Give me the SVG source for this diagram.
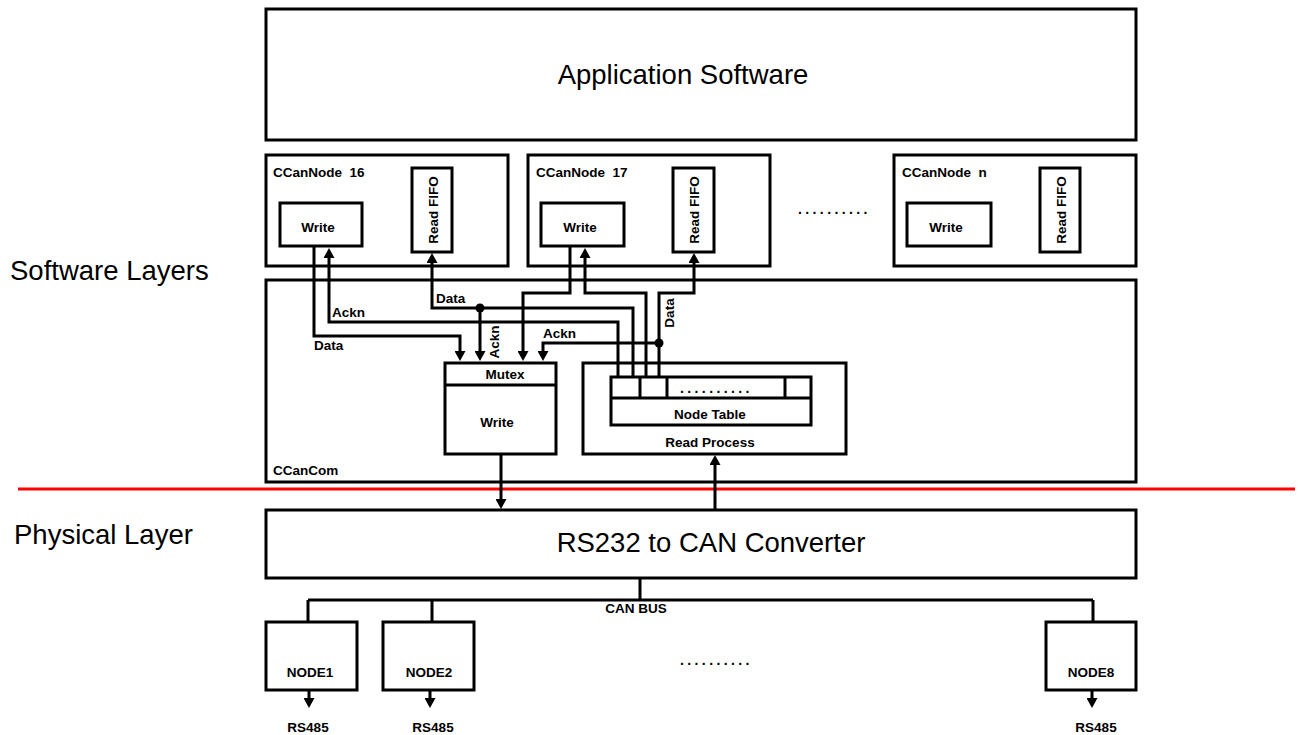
<svg xmlns="http://www.w3.org/2000/svg" width="1298" height="735" viewBox="0 0 1298 735">
<defs>
<style>
.box{fill:#fff;stroke:#000;stroke-width:3}
.ln{fill:none;stroke:#000;stroke-width:3}
.big{font-family:"Liberation Sans",Arial,sans-serif;font-size:27.5px;fill:#000}
.sm{font-family:"Liberation Sans",Arial,sans-serif;font-size:13.5px;font-weight:bold;fill:#000}
.mid{text-anchor:middle}
.dots{font-family:"Liberation Sans",Arial,sans-serif;font-size:14px;font-weight:bold;letter-spacing:3.4px;fill:#000}
</style>
<marker id="ah" viewBox="0 0 10 11" refX="4" refY="5.5" markerWidth="10" markerHeight="11" markerUnits="userSpaceOnUse" orient="auto">
<path d="M0,0 L10,5.5 L0,11 z" fill="#000"/>
</marker>
</defs>
<rect width="1298" height="735" fill="#fff"/>

<g id="layer-labels">
<text class="big" x="10" y="280">Software Layers</text>
<text class="big" x="14" y="544">Physical Layer</text>
<line x1="18" y1="489" x2="1295" y2="489" stroke="#ff0000" stroke-width="3"/>
</g>

<g id="app-software">
<rect class="box" x="266" y="9" width="870" height="131"/>
<text class="big mid" x="683" y="84">Application Software</text>
</g>

<g id="ccannode16">
<rect class="box" x="266" y="155" width="242" height="111"/>
<text class="sm" x="273" y="177" xml:space="preserve">CCanNode  16</text>
<rect class="box" x="280" y="203" width="82" height="43"/>
<text class="sm mid" x="318" y="232">Write</text>
<rect class="box" x="412" y="168" width="40" height="84"/>
<text class="sm mid" transform="translate(438,210) rotate(-90)">Read FIFO</text>
</g>

<g id="ccannode17">
<rect class="box" x="528" y="155" width="242" height="111"/>
<text class="sm" x="536" y="177" xml:space="preserve">CCanNode  17</text>
<rect class="box" x="541" y="203" width="83" height="43"/>
<text class="sm mid" x="580" y="232">Write</text>
<rect class="box" x="673" y="168" width="41" height="84"/>
<text class="sm mid" transform="translate(699,210) rotate(-90)">Read FIFO</text>
</g>

<text class="dots" x="798" y="214">..........</text>

<g id="ccannoden">
<rect class="box" x="894" y="155" width="242" height="111"/>
<text class="sm" x="902" y="177" xml:space="preserve">CCanNode  n</text>
<rect class="box" x="907" y="203" width="84" height="43"/>
<text class="sm mid" x="946" y="232">Write</text>
<rect class="box" x="1040" y="168" width="40" height="84"/>
<text class="sm mid" transform="translate(1066,210) rotate(-90)">Read FIFO</text>
</g>

<g id="ccancom">
<rect class="box" x="266" y="280" width="870" height="202"/>
<text class="sm" x="273" y="475">CCanCom</text>
</g>

<g id="mutex-write">
<rect class="box" x="445" y="363" width="111" height="91"/>
<line class="ln" x1="445" y1="385" x2="556" y2="385"/>
<text class="sm mid" x="505" y="379">Mutex</text>
<text class="sm mid" x="497" y="427">Write</text>
</g>

<g id="read-process">
<rect class="box" x="583" y="363" width="263" height="91"/>
<text class="sm mid" x="710" y="447">Read Process</text>
</g>

<g id="node-table">
<rect class="box" x="611" y="377" width="200" height="48"/>
<line class="ln" x1="611" y1="398" x2="811" y2="398"/>
<line class="ln" x1="640" y1="377" x2="640" y2="398"/>
<line class="ln" x1="667" y1="377" x2="667" y2="398"/>
<line class="ln" x1="785" y1="377" x2="785" y2="398"/>
<text class="dots" x="680" y="393">..........</text>
<text class="sm mid" x="710" y="419">Node Table</text>
</g>

<g id="converter">
<rect class="box" x="266" y="510" width="870" height="68"/>
<text class="big mid" x="711" y="552">RS232 to CAN Converter</text>
</g>

<g id="node1">
<rect class="box" x="266" y="622" width="91" height="68"/>
<text class="sm mid" x="310" y="677">NODE1</text>
</g>
<g id="node2">
<rect class="box" x="383" y="622" width="91" height="68"/>
<text class="sm mid" x="429" y="677">NODE2</text>
</g>
<text class="dots" x="680" y="665">..........</text>
<g id="node8">
<rect class="box" x="1046" y="622" width="90" height="68"/>
<text class="sm mid" x="1091" y="677">NODE8</text>
</g>

<g id="connectors">
<path class="ln" d="M314,246 V336 H460 V355" marker-end="url(#ah)"/>
<path class="ln" d="M618,376 V322 H329 V254" marker-end="url(#ah)"/>
<path class="ln" d="M633,376 V308 H432 V259" marker-end="url(#ah)"/>
<path class="ln" d="M480,308 V355" marker-end="url(#ah)"/>
<circle cx="480" cy="308" r="4.5" fill="#000"/>
<path class="ln" d="M570,246 V293 H523 V355" marker-end="url(#ah)"/>
<path class="ln" d="M646,376 V293 H585 V254" marker-end="url(#ah)"/>
<path class="ln" d="M659,376 V293 H694 V259" marker-end="url(#ah)"/>
<path class="ln" d="M659,343 H543 V355" marker-end="url(#ah)"/>
<circle cx="659" cy="343" r="4.5" fill="#000"/>
<path class="ln" d="M501,455 V503" marker-end="url(#ah)"/>
<path class="ln" d="M715,509 V461" marker-end="url(#ah)"/>
<path class="ln" d="M640,579 V600 M308,600 H1093 M308,600 V622 M432,600 V622 M1093,600 V622"/>
<path class="ln" d="M309,691 V702" marker-end="url(#ah)"/>
<path class="ln" d="M430,691 V702" marker-end="url(#ah)"/>
<path class="ln" d="M1092,691 V702" marker-end="url(#ah)"/>
<text class="sm" x="436" y="303">Data</text>
<text class="sm" x="332" y="317">Ackn</text>
<text class="sm" x="314" y="350">Data</text>
<text class="sm mid" transform="translate(499,342) rotate(-90)">Ackn</text>
<text class="sm" x="543" y="338">Ackn</text>
<text class="sm mid" transform="translate(674,313) rotate(-90)">Data</text>
<text class="sm mid" x="636" y="613">CAN BUS</text>
<text class="sm mid" x="308" y="732">RS485</text>
<text class="sm mid" x="433" y="732">RS485</text>
<text class="sm mid" x="1096" y="732">RS485</text>
</g>
</svg>
